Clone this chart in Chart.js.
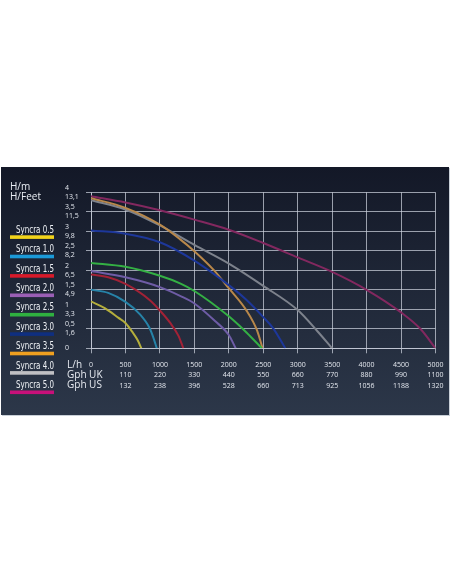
<!DOCTYPE html>
<html>
<head>
<meta charset="utf-8">
<script src="https://cdn.jsdelivr.net/npm/chart.js@4.4.1/dist/chart.umd.min.js"></script>
<style>
    html, body { margin: 0; padding: 0; background: #fff; }
    body { width: 452px; height: 584px; position: relative; overflow: hidden; }
    #panel {
        position: absolute; left: 1px; top: 167px; width: 448px; height: 248px;
        background: linear-gradient(#131827, #2c3749);
        box-shadow: 1px 1px 0 #c9d0d8;
    }
    #myChart { position: absolute; left: 0; top: 0; }
</style>
</head>
<body>
<div id="panel"></div>
<canvas id="myChart" width="452" height="584"></canvas>
<script>
// axis labels
var flowLh = [0, 500, 1000, 1500, 2000, 2500, 3000, 3500, 4000, 4500, 5000]
var gphUk = ["", "110", "220", "330", "440", "550", "660", "770", "880", "990", "1100"]
var gphUs = ["", "132", "238", "396", "528", "660", "713", "925", "1056", "1188", "1320"]
var headM = ["0", "0,5", "1", "1,5", "2", "2,5", "3", "3,5", "4"]
var headFeet = ["", "1,6", "3,3", "4,9", "6,5", "8,2", "9,8", "11,5", "13,1"]
var models = ["Syncra 0.5", "Syncra 1.0", "Syncra 1.5", "Syncra 2.0", "Syncra 2.5", "Syncra 3.0", "Syncra 3.5", "Syncra 4.0", "Syncra 5.0"]

// pump curves: flow (L/h) and head (m)
var flow05 = [0, 200, 400, 500, 600, 680, 730]
var head05 = [1.2, 1.03, 0.78, 0.65, 0.42, 0.2, 0]
var flow10 = [0, 250, 500, 700, 850, 910, 955]
var head10 = [1.5, 1.42, 1.19, 0.89, 0.52, 0.25, 0]
var flow15 = [0, 250, 500, 850, 1000, 1150, 1270, 1340]
var head15 = [1.89, 1.82, 1.65, 1.24, 0.97, 0.65, 0.32, 0]
var flow20 = [0, 500, 1000, 1300, 1500, 1800, 2000, 2100]
var head20 = [1.98, 1.82, 1.57, 1.34, 1.15, 0.7, 0.34, 0]
var flow25 = [0, 500, 1000, 1300, 1500, 2000, 2260, 2480]
var head25 = [2.19, 2.09, 1.86, 1.66, 1.47, 0.82, 0.4, 0]
var flow30 = [0, 500, 1000, 1500, 2000, 2250, 2500, 2650, 2820]
var head30 = [3.02, 2.94, 2.72, 2.25, 1.62, 1.25, 0.8, 0.5, 0]
var flow35 = [0, 500, 1000, 1290, 1500, 1780, 2000, 2260, 2410, 2490]
var head35 = [3.85, 3.6, 3.17, 2.8, 2.49, 2.01, 1.54, 0.96, 0.46, 0]
var flow40 = [0, 500, 1000, 1500, 2000, 2500, 3000, 3280, 3500]
var head40 = [3.8, 3.56, 3.15, 2.65, 2.17, 1.6, 0.98, 0.45, 0]
var flow50 = [0, 500, 1000, 1500, 2000, 2500, 3000, 3500, 4000, 4500, 4780, 5000]
var head50 = [3.9, 3.74, 3.54, 3.3, 3.04, 2.7, 2.33, 1.96, 1.5, 0.92, 0.5, 0]

var flows = [flow05, flow10, flow15, flow20, flow25, flow30, flow35, flow40, flow50]
var heads = [head05, head10, head15, head20, head25, head30, head35, head40, head50]
var lineColors = ["#b4ae3c", "#2683a8", "#a22236", "#6e5ca6", "#34b044", "#1d379a", "#b8874a", "#7d828c", "#82285f"]
var keyColors = ["#f2d31b", "#1b9ad8", "#d81a2a", "#9a5fb5", "#2fb040", "#0f2f80", "#f0a020", "#c0c0c4", "#c8107a"]

var datasets = []
for (var i = 0; i < models.length; i++) {
    var pts = []
    for (var j = 0; j < flows[i].length; j++) {
        pts.push({ x: flows[i][j], y: heads[i][j] })
    }
    datasets.push({
        label: models[i],
        data: pts,
        borderColor: lineColors[i],
        keyColor: keyColors[i],
        borderWidth: 2,
        pointRadius: 0,
        cubicInterpolationMode: "monotone",
        fill: false
    })
}

var gridColor = "rgba(205,210,222,0.72)"
var rowStep = 10.3

var sideLabels = {
    id: "sideLabels",
    afterDraw: function(chart) {
        var ctx = chart.ctx
        var xs = chart.scales.x
        ctx.save()
        ctx.fillStyle = "#e9edf3"
        ctx.font = '10px "Open Sans"'
        ctx.textAlign = "left"
        ctx.textBaseline = "middle"
        ctx.fillText("H/m", 10, 187.5)
        ctx.fillText("H/Feet", 10, 197)
        var rowY = xs.top + 5 + 6.5 + rowStep / 2
        var heads = ["L/h", "Gph UK", "Gph US"]
        for (var k = 0; k < heads.length; k++) {
            ctx.fillText(heads[k], 67, rowY + k * rowStep)
        }
        // legend: name with colour bar under it
        ctx.font = '10px "Liberation Sans Narrow", "DejaVu Sans Condensed", sans-serif'
        ctx.textAlign = "right"
        ctx.textBaseline = "alphabetic"
        chart.data.datasets.forEach(function(ds, n) {
            var barY = 235.3 + n * 19.4
            ctx.fillStyle = ds.keyColor
            ctx.fillRect(10, barY, 44, 3.6)
            ctx.fillStyle = "#eef1f5"
            ctx.fillText(ds.label, 54, barY - 2.5, 38)
        })
        ctx.restore()
    }
}

new Chart("myChart", {
    type: "line",
    data: { datasets: datasets },
    plugins: [sideLabels],
    options: {
        responsive: false,
        animation: false,
        layout: { padding: { left: 65, right: 16.5, top: 192.3, bottom: 190.7 } },
        plugins: {
            legend: { display: false },
            tooltip: { enabled: false }
        },
        scales: {
            x: {
                type: "linear",
                min: 0,
                max: 5000,
                afterFit: function(scale) { scale.height = 45 },
                afterBuildTicks: function(scale) {
                    scale.ticks = flowLh.map(function(v) { return { value: v } })
                },
                grid: { color: gridColor, lineWidth: 1, tickLength: 5 },
                border: { color: gridColor },
                ticks: {
                    color: "#e3e7ee",
                    padding: 6.5,
                    maxRotation: 0,
                    autoSkip: false,
                    font: { family: "Open Sans", size: 7, lineHeight: rowStep / 7 },
                    callback: function(value) {
                        var n = flowLh.indexOf(value)
                        return [String(value), gphUk[n], gphUs[n]]
                    }
                }
            },
            y: {
                min: 0,
                max: 4,
                afterFit: function(scale) { scale.width = 26 },
                afterBuildTicks: function(scale) {
                    scale.ticks = headM.map(function(v, n) { return { value: n / 2 } })
                },
                grid: { color: gridColor, lineWidth: 1, tickLength: 5 },
                border: { color: gridColor },
                ticks: {
                    color: "#e3e7ee",
                    crossAlign: "far",
                    autoSkip: false,
                    font: { family: "Open Sans", size: 7, lineHeight: 1.3 },
                    callback: function(value) {
                        var n = Math.round(value * 2)
                        if (n == 0) return headM[0]
                        return [headM[n], headFeet[n]]
                    }
                }
            }
        }
    }
});
</script>
</body>
</html>
